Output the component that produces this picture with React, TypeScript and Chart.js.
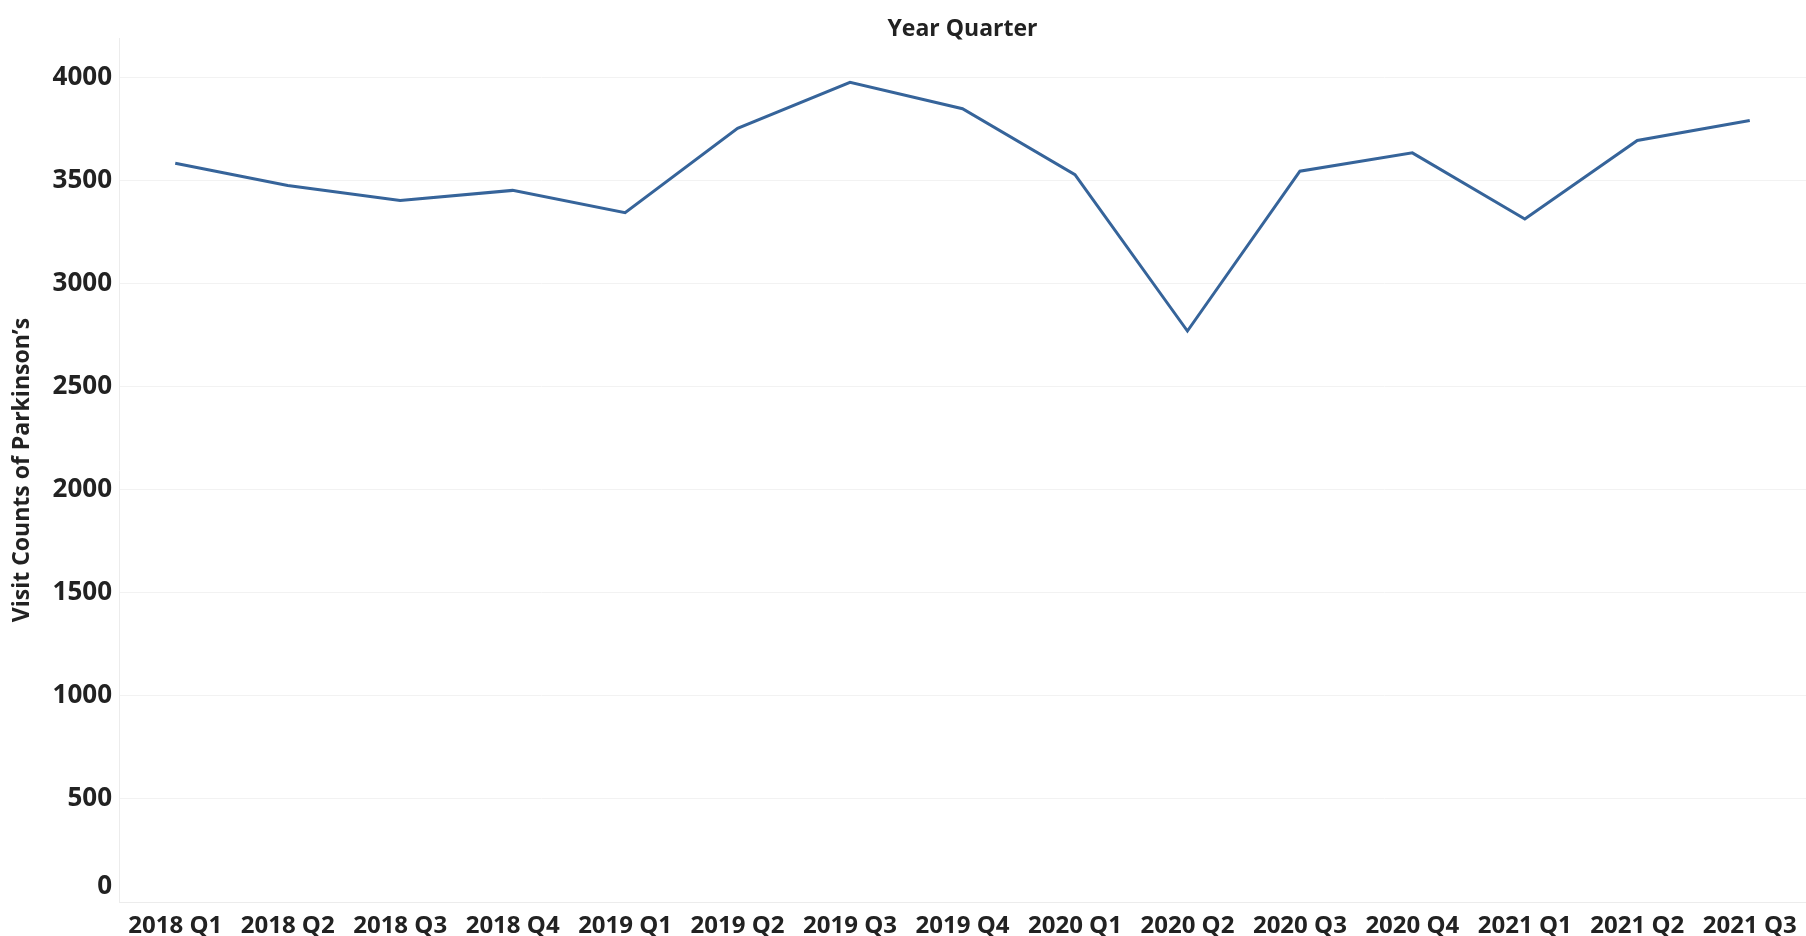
import React, { useEffect, useRef } from "react";
import { Chart, registerables } from "chart.js";

Chart.register(...registerables);

const categories = [
  "2018 Q1", "2018 Q2", "2018 Q3", "2018 Q4",
  "2019 Q1", "2019 Q2", "2019 Q3", "2019 Q4",
  "2020 Q1", "2020 Q2", "2020 Q3", "2020 Q4",
  "2021 Q1", "2021 Q2", "2021 Q3",
];
const visitCounts = [3583, 3475, 3402, 3451, 3343, 3752, 3975, 3847, 3527, 2769, 3544, 3633, 3312, 3693, 3790];
const yTickValues = [0, 500, 1000, 1500, 2000, 2500, 3000, 3500, 4000];
const yTitle = "Visit Counts of Parkinson\u2019s";
const xTitle = "Year Quarter";

const topTitlePlugin = {
  id: "topTitle",
  afterDraw(chart: any) {
    const { ctx, chartArea } = chart;
    ctx.save();
    ctx.fillStyle = "#222222";
    ctx.font = "bold 23px 'Open Sans'";
    ctx.textAlign = "center";
    ctx.textBaseline = "middle";
    ctx.fillText(xTitle, (chartArea.left + chartArea.right) / 2, 29);
    ctx.restore();
  },
};

export default function App() {
  const ref = useRef<HTMLCanvasElement | null>(null);
  useEffect(() => {
    document.body.style.margin = "0";
    const canvas = ref.current!;
    const chart = new Chart(canvas, {
      type: "line",
      data: {
        labels: categories,
        datasets: [
          {
            data: visitCounts,
            borderColor: "#36649a",
            borderWidth: 3,
            pointRadius: 0,
            tension: 0,
            fill: false,
          },
        ],
      },
      plugins: [topTitlePlugin],
      options: {
        responsive: false,
        animation: false,
        layout: { padding: { top: 38, left: 0, right: 0, bottom: 0 } },
        plugins: {
          legend: { display: false },
          tooltip: { enabled: false },
          title: { display: false },
        },
        scales: {
          x: {
            offset: true,
            grid: { display: false },
            border: { display: true, color: "#ececec", width: 1 },
            ticks: {
              color: "#222222",
              font: { family: "'Open Sans'", size: 24, weight: "bold", lineHeight: 1 },
              padding: 4,
              maxRotation: 0,
              autoSkip: false,
            },
            afterFit: (s: any) => { s.height = 34; s.paddingLeft = 0; s.paddingRight = 0; },
          },
          y: {
            min: 0,
            max: 4190,
            grid: { color: "#f2f2f2", lineWidth: 1, drawTicks: false },
            border: { display: true, color: "#ececec", width: 1 },
            afterBuildTicks: (s: any) => {
              s.ticks = yTickValues.map((v) => ({ value: v }));
            },
            ticks: {
              color: "#222222",
              font: { family: "'Open Sans'", size: 26, weight: "bold", lineHeight: 1.2 },
              padding: 7,
              callback: (v: any) => (v === 0 ? ["0", ""] : String(v)),
            },
            title: {
              display: true,
              text: yTitle,
              color: "#222222",
              font: { family: "'Open Sans'", size: 23, weight: "bold", lineHeight: 1.2 },
              padding: { top: 9, bottom: 0 },
            },
            afterFit: (s: any) => { s.width = 119; s.paddingTop = 0; s.paddingBottom = 0; },
          },
        },
      },
    });
    return () => chart.destroy();
  }, []);
  return (
    <div style={{ width: 1806, height: 936 }}>
      <canvas ref={ref} width={1806} height={936} style={{ display: "block" }} />
    </div>
  );
}
